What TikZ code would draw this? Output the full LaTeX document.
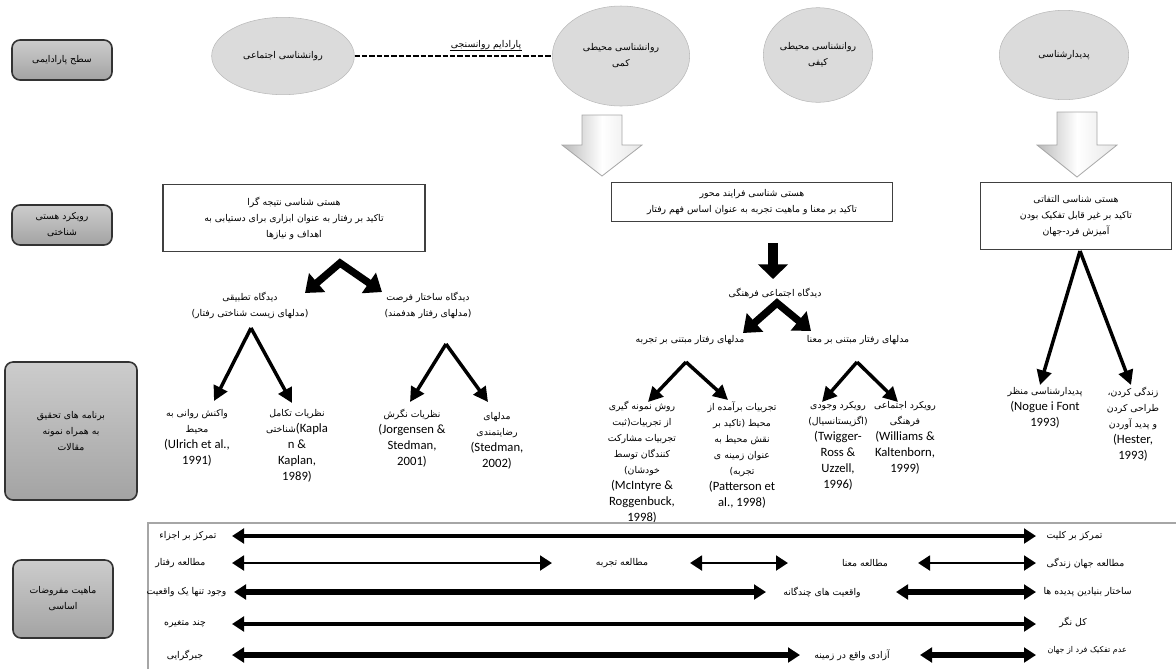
\documentclass[tikz,border=0pt]{standalone}
\usepackage{fontspec}
\setmainfont{Carlito}
\newfontfamily\farsi[Script=Arabic]{DejaVu Sans}
\TeXXeTstate=1
\usetikzlibrary{arrows.meta,shapes.geometric}
\newcommand{\fs}{\fontsize{7}{12}\selectfont}
\newcommand{\fr}{\fontsize{9.5}{12}\selectfont}
\newcommand{\fa}[1]{{\farsi\fontsize{7}{12}\selectfont\beginR #1\endR}}
\begin{document}
\begin{tikzpicture}[x=0.75pt,y=-0.75pt,
  lbl/.style={draw=black!80, line width=1.2pt, rounded corners=6pt, top color=gray!40, bottom color=gray!72, align=center, font=\fs, inner sep=2pt},
  ell/.style={ellipse, fill=gray!28, draw=gray!55, align=center, font=\fs, inner sep=0pt},
  bx/.style={draw=black!75, line width=0.8pt, fill=white, align=center, font=\fs, inner sep=3pt},
  txt/.style={align=center, font=\fr, inner sep=1pt},
  refn/.style={align=center, font=\fr, inner sep=1pt, anchor=north},
  chev/.style={line width=5.5pt, line join=miter, {Triangle[width=18pt,length=12pt]}-{Triangle[width=18pt,length=12pt]}},
  varr/.style={line width=2.6pt, -{Triangle[width=11pt,length=11pt]}},
  dbl/.style={line width=#1, {Triangle[width=11pt,length=9pt]}-{Triangle[width=11pt,length=9pt]}},
  hollow/.style={draw=gray!70, line width=0.6pt, left color=gray!55, right color=gray!20, middle color=white}
]
\useasboundingbox (0,0) rectangle (1176,669);

% ---- row 1: paradigms
\node[lbl, minimum width=75pt, minimum height=30pt] (L1) at (62,60) {\fa{سطح پارادایمی}};
\node[ell, minimum width=107pt, minimum height=58pt] (E1) at (283,56) {\fa{روانشناسی اجتماعی}};
\node[ell, minimum width=103pt, minimum height=75pt] (E2) at (621,56) {\fa{روانشناسی محیطی}\\\fa{کمی}};
\node[ell, minimum width=82pt, minimum height=71pt] (E3) at (818,55) {\fa{روانشناسی محیطی}\\\fa{کیفی}};
\node[ell, minimum width=97pt, minimum height=67pt] (E4) at (1064,55) {\fa{پدیدارشناسی}};
\draw[line width=1.6pt, dash pattern=on 4pt off 1.5pt] (E1.east) -- (E2.west);
\node[txt, inner sep=0.5pt] (PL) at (486,45) {\fa{پارادایم روانسنجی}};
\draw[line width=0.5pt] (PL.south west) -- (PL.south east);

% hollow arrows
\draw[hollow] (582,115) -- (622,115) -- (622,145) -- (642,145) -- (602,176) -- (562,145) -- (582,145) -- cycle;
\draw[hollow] (1057,112) -- (1097,112) -- (1097,145) -- (1117,145) -- (1077,177) -- (1037,145) -- (1057,145) -- cycle;

% ---- row 2: ontology
\node[lbl, minimum width=75pt, minimum height=30pt] (L2) at (62,225) {\fa{رویکرد هستی}\\\fa{شناختی}};
\node[bx, minimum width=196.5pt, minimum height=50pt] (B1) at (294,218) {\fa{هستی شناسی نتیجه گرا}\\\fa{تاکید بر رفتار به عنوان ابزاری برای دستیابی به}\\\fa{اهداف و نیازها}};
\node[bx, minimum width=210.75pt, minimum height=29pt] (B2) at (752,202) {\fa{هستی شناسی فرایند محور}\\\fa{تاکید بر معنا و ماهیت تجربه به عنوان اساس فهم رفتار}};
\node[bx, minimum width=143pt, minimum height=50pt] (B3) at (1076,216) {\fa{هستی شناسی التفاتی}\\\fa{تاکید بر غیر قابل تفکیک بودن}\\\fa{آمیزش فرد-جهان}};

% left perspectives
\coordinate (C1) at (340,263);
\coordinate (C1l) at (305,293);
\coordinate (C1r) at (382,292);
\draw[chev] (C1l) -- (C1) -- (C1r);
\node[txt] (T1) at (250,305) {\fa{دیدگاه تطبیقی}\\\fa{(مدلهای زیست شناختی رفتار)}};
\node[txt] (T2) at (428,305) {\fa{دیدگاه ساختار فرصت}\\\fa{(مدلهای رفتار هدفمند)}};

% middle perspective
\coordinate (D1) at (773,243);
\coordinate (D2) at (773,279);
\draw[line width=7.5pt, -{Triangle[width=22pt,length=11pt]}] (D1) -- (D2);
\node[txt] (T3) at (775,293) {\fa{دیدگاه اجتماعی فرهنگی}};
\coordinate (C2) at (777,303);
\coordinate (C2l) at (743,333);
\coordinate (C2r) at (811,331);
\draw[chev] (C2l) -- (C2) -- (C2r);
\node[txt] (T4) at (690,340) {\fa{مدلهای رفتار مبتنی بر تجربه}};
\node[txt] (T5) at (858,340) {\fa{مدلهای رفتار مبتنی بر معنا}};

% ---- row 3: research programs
\node[lbl, minimum width=99pt, minimum height=103.5pt] (L3) at (71,431) {\fa{برنامه های تحقیق}\\\fa{به همراه نمونه}\\\fa{مقالات}};

\coordinate (V1) at (251,328); \coordinate (V1a) at (214,401); \coordinate (V1b) at (292,403);
\coordinate (V2) at (446,344); \coordinate (V2a) at (410,402); \coordinate (V2b) at (488,402);
\coordinate (V3) at (686,362); \coordinate (V3a) at (648,402); \coordinate (V3b) at (728,400);
\coordinate (V4) at (857,362); \coordinate (V4a) at (822,402); \coordinate (V4b) at (898,402);
\coordinate (V5) at (1080,251); \coordinate (V5a) at (1040,385); \coordinate (V5b) at (1131,385);
\foreach \v in {V1,V2,V3,V4,V5}{
  \draw[varr] (\v) -- (\v a);
  \draw[varr] (\v) -- (\v b);
}

\node[refn] (R1) at (197,408) {\fa{واکنش روانی به}\\\fa{محیط}\\(Ulrich et al.,\\1991)};
\node[refn] (R2) at (297,408) {\fa{نظریات تکامل}\\\fa{شناختی}(Kapla\\n \&\\Kaplan,\\1989)};
\node[refn] (R3) at (412,408) {\fa{نظریات نگرش}\\(Jorgensen \&\\Stedman,\\2001)};
\node[refn] (R4) at (497,411) {\fa{مدلهای}\\\fa{رضایتمندی}\\(Stedman,\\2002)};
\node[refn] (R5) at (642,400) {\fa{روش نمونه گیری}\\\fa{از تجربیات(ثبت}\\\fa{تجربیات مشارکت}\\\fa{کنندگان توسط}\\\fa{خودشان)}\\(McIntyre \&\\Roggenbuck,\\1998)};
\node[refn] (R6) at (742,400) {\fa{تجربیات برآمده از}\\\fa{محیط (تاکید بر}\\\fa{نقش محیط به}\\\fa{عنوان زمینه ی}\\\fa{تجربه)}\\(Patterson et\\al., 1998)};
\node[refn] (R7) at (838,400) {\fa{رویکرد وجودی}\\\fa{(اگزیستانسیال)}\\(Twigger-\\Ross \&\\Uzzell,\\1996)};
\node[refn] (R8) at (905,400) {\fa{رویکرد اجتماعی}\\\fa{فرهنگی}\\(Williams \&\\Kaltenborn,\\1999)};
\node[refn] (R9) at (1045,386) {\fa{پدیدارشناسی منظر}\\(Nogue i Font\\1993)};
\node[refn] (R10) at (1133,386) {\fa{زندگی کردن،}\\\fa{طراحی کردن}\\\fa{و پدید آوردن}\\(Hester,\\1993)};

% ---- row 4: assumptions
\node[lbl, minimum width=75pt, minimum height=58.5pt] (L4) at (63,599) {\fa{ماهیت مفروضات}\\\fa{اساسی}};
\draw[gray!70, line width=1pt] (148,669) -- (148,523) -- (1176,523);

\node[txt, anchor=east] (a1) at (218,536) {\fa{تمرکز بر اجزاء}};
\node[txt, anchor=west] (b1) at (1045,536) {\fa{تمرکز بر کلیت}};
\coordinate (r1s) at (232,536); \coordinate (r1e) at (1036,536);
\draw[dbl=3pt] (r1s) -- (r1e);

\node[txt, anchor=east] (a2) at (207,563) {\fa{مطالعه رفتار}};
\node[txt] (m2) at (622,563) {\fa{مطالعه تجربه}};
\node[txt] (n2) at (865,563) {\fa{مطالعه معنا}};
\node[txt, anchor=west] (b2) at (1045,563) {\fa{مطالعه جهان زندگی}};
\coordinate (r2s) at (232,563); \coordinate (r2e) at (552,563);
\coordinate (r2t) at (690,563); \coordinate (r2u) at (788,563);
\coordinate (r2v) at (918,563); \coordinate (r2w) at (1036,563);
\draw[dbl=2.2pt] (r2s) -- (r2e);
\draw[dbl=2.2pt] (r2t) -- (r2u);
\draw[dbl=2.2pt] (r2v) -- (r2w);

\node[txt, anchor=east] (a3) at (228,592) {\fa{وجود تنها یک واقعیت}};
\node[txt] (m3) at (822,592) {\fa{واقعیت های چندگانه}};
\node[txt, anchor=west] (b3) at (1042,592) {\fa{ساختار بنیادین پدیده ها}};
\coordinate (r3s) at (234,592); \coordinate (r3e) at (766,592);
\coordinate (r3t) at (896,592); \coordinate (r3u) at (1036,592);
\draw[dbl=4.5pt] (r3s) -- (r3e);
\draw[dbl=4.5pt] (r3t) -- (r3u);

\node[txt] (a4) at (185,624) {\fa{چند متغیره}};
\node[txt] (b4) at (1073,622) {\fa{کل نگر}};
\coordinate (r4s) at (232,624); \coordinate (r4e) at (1036,624);
\draw[dbl=3.7pt] (r4s) -- (r4e);

\node[txt] (a5) at (185,655) {\fa{جبرگرایی}};
\node[txt] (m5) at (852,655) {\fa{آزادی واقع در زمینه}};
\node[txt, anchor=west] (b5) at (1046,650) {{\farsi\fontsize{6}{8}\selectfont\beginR عدم تفکیک فرد از جهان\endR}};
\coordinate (r5s) at (232,655); \coordinate (r5e) at (800,655);
\coordinate (r5t) at (920,655); \coordinate (r5u) at (1036,655);
\draw[dbl=4.5pt] (r5s) -- (r5e);
\draw[dbl=4.5pt] (r5t) -- (r5u);
\end{tikzpicture}
\end{document}
